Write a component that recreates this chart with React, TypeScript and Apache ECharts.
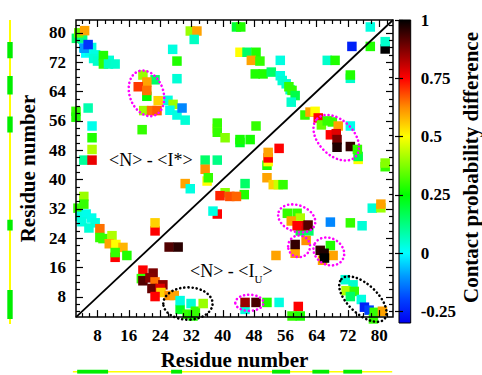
import React, { useEffect, useRef } from "react";
import * as echarts from "echarts";

// ---------- axis settings ----------
const AXIS_MIN = 2.5;
const AXIS_MAX = 83.5;
const majorTicks = [8, 16, 24, 32, 40, 48, 56, 64, 72, 80];
const minorTicks = [4, 6, 10, 12, 14, 18, 20, 22, 26, 28, 30, 34, 36, 38, 42, 44, 46, 50, 52, 54, 58, 60, 62, 66, 68, 70, 74, 76, 78, 82];
const colorbarTicks = [-0.25, 0, 0.25, 0.5, 0.75, 1];
const CB_MIN = -0.3;
const CB_MAX = 1;

// colour scale anchors (value -> colour)
const colorAnchorValues = [-0.3, -0.2, -0.1, 0, 0.125, 0.25, 0.375, 0.5, 0.625, 0.75, 0.875, 1];
const colorAnchorColors = ["#0000f0", "#0040ff", "#0099ff", "#00ffff", "#00ff80", "#00ff00", "#80ff00", "#ffff00", "#ff8c00", "#ff0000", "#800000", "#000000"];

// ---------- contact probability differences [residue i, residue j, value] ----------
// upper triangle : <N> - <I*>
const upperContacts: number[][] = [
  [2.6, 78.5, 0.15], [4.2, 78.3, 0.12], [3.2, 80.0, 0.35], [4.7, 80.6, 0.6],
  [4.5, 76, 0.02], [6.5, 76, 0.03], [5, 74.5, 0.0], [6, 75, 0.02], [7.5, 74, 0.03], [7, 73, 0.04],
  [8, 72.3, 0.05], [9.5, 72.5, 0.05], [11, 72.5, 0.04],
  [9.5, 73.8, 0.28], [9.5, 71.5, 0.3], [10.8, 71.5, 0.06], [12.5, 71.5, 0.05],
  [4.6, 75.8, -0.1], [5.6, 76.8, -0.22],
  [19.6, 68.5, 0.4], [22.7, 67.2, 0.15], [20.6, 66.6, 0.6], [18.4, 65.3, 0.7],
  [20.6, 62.7, 0.25], [20.6, 64.3, 0.65], [23.5, 61.5, 0.55],
  [19.8, 58.8, 0.4], [21.8, 58.8, 0.65], [23.2, 58.8, 0.67],
  [26, 61.6, 0.03], [27.3, 60.5, 0.4], [26.5, 58.9, 0.02], [28.3, 57.6, 0.03], [30.4, 56.2, 0.04], [29.6, 59.5, -0.12],
  [27.2, 75.5, 0.03], [28.3, 72.3, 0.28], [28.3, 67.5, 0.04],
  [2.5, 58.6, 0.3], [2.5, 57.0, 0.28], [5.6, 59.5, 0.08],
  [6.6, 54.6, 0.02], [6.6, 51.4, 0.28], [6.6, 48.2, 0.42], [4.5, 45.3, 0.1], [6.6, 45.3, 0.77],
  [19.4, 53.6, 0.3],
  [31.7, 80.5, 0.4], [33.4, 80.5, 0.6], [32.7, 78.2, 0.06],
  [43.5, 81.6, 0.2], [44.6, 81.6, 0.28],
  [44.4, 74.7, 0.5], [46.2, 74.7, 0.15], [48.5, 74.7, 0.28], [47.3, 72.5, 0.6], [49.5, 72.3, 0.3],
  [48.3, 68.8, 0.28], [50.3, 68.8, 0.28], [54.7, 72.5, 0.03],
  [52.4, 69.3, 0.15], [54.7, 68.3, 0.03], [55.2, 67, 0.04], [56.2, 66.1, 0.05], [57.2, 64.5, 0.06],
  [56.9, 65.3, 0.3], [57.7, 64.3, 0.3], [58.5, 62.9, 0.18], [57.5, 61.1, 0.05],
  [77.7, 81.6, 0.03], [73, 76.3, -0.25], [77.7, 76.3, 0.28], [81.5, 75.6, 1.0], [81.5, 77.6, 0.05],
  [66.7, 72.5, 0.05], [68.7, 72.5, 0.28], [72.6, 67.6, 0.05], [72.6, 68.5, 0.28],
  [38.6, 53.9, 0.5], [38.6, 55.4, 0.3], [38.6, 52.9, 0.3], [40.6, 51.4, 0.38], [48.5, 54.6, 0.3],
  [44.4, 50.1, 0.22], [44.4, 50.9, 0.27], [47, 50.9, 0.27],
  [35.5, 45.3, 0.15], [38.6, 45.3, 0.12], [35.5, 42.8, 0.62], [36, 39.6, 0.5], [36.3, 40.5, 0.3],
  [30.4, 38.9, 0.6], [31.7, 37.5, 0.03],
  [3, 32.2, 0.3], [4.5, 35.4, 0.4], [4.5, 33.3, 0.3], [3.5, 30, 0.03], [5.1, 30.6, 0.02],
  [4, 28.5, 0.03], [6.5, 29.5, 0.02],
  [7.4, 28.2, 0.03], [5.8, 26.8, 0.04], [8.6, 26.6, 0.65], [8.6, 24.2, 0.3], [9.4, 23.9, 0.3],
  [11.7, 24.7, 0.42], [11, 22.5, 0.6], [12.7, 22.3, 0.5], [14.5, 21.5, 0.58], [12.5, 18.8, 0.75],
  [12.5, 20.1, 0.3], [15.5, 19.3, 0.28],
  [22.7, 26, 0.75], [22.7, 28.2, 0.55],
];

// lower triangle : <N> - <I_U>
const lowerContacts: number[][] = [
  [54.4, 48.5, 0.75], [51.3, 43.9, 0.28], [51.6, 44.9, 0.5], [51.6, 45.9, 0.75], [51.6, 47.4, 0.6],
  [51.3, 40.5, 0.6], [45.7, 38.9, 0.15], [45.5, 35.9, 0.28],
  [52.9, 38.6, 0.55], [54.2, 38.6, 0.45], [55.4, 38.6, 0.3],
  [40.6, 36.4, 0.38], [39.3, 35.6, 0.72], [41.8, 35.4, 0.68], [43.5, 35.4, 0.66],
  [38.6, 30.6, 0.75], [37.5, 31.4, 0.03],
  [61, 57.6, 0.3], [62.3, 58.4, 0.6], [63.6, 58.6, 0.5], [64.4, 56.8, 0.75], [65.2, 54.9, 0.35],
  [66.7, 56, 0.3], [68, 55.7, 0.3], [69.5, 54.6, 0.6], [72.6, 54.6, 0.02],
  [67.5, 52.2, 0.75], [69, 52.5, 0.78], [69.2, 50.9, 0.88], [69.2, 48.8, 0.97], [72.6, 49, 0.95],
  [74.6, 45.5, 0.5], [74.6, 46.3, 0.18], [74.4, 48.2, 0.3], [81.5, 43.5, 0.3], [81.5, 44.5, 0.38],
  [26.3, 21.6, 0.92], [28.6, 21.6, 0.96], [53.6, 19.3, 0.6],
  [45.7, 4.6, 0.03], [45.7, 6.5, 0.85], [48.5, 6.5, 0.93], [51.3, 6.5, 0.28], [54.4, 6.5, 0.03],
  [19.6, 15.3, 0.75], [22.2, 14.5, 0.88], [19.2, 13, 0.3], [19.6, 12.4, 0.92], [21.4, 13.2, 0.87],
  [22.7, 12.1, 0.65], [24.7, 11.3, 0.86], [21.9, 10.3, 0.9], [24, 10.3, 0.78], [24.2, 9.2, 0.55],
  [22.7, 8.1, 0.75], [26.3, 8.4, 0.62], [27.6, 8.4, 0.6],
  [29.1, 4.6, 0.22], [30.9, 3.3, 0.3], [32.4, 2.8, 0.28], [29.1, 7.0, 0.03], [31.9, 6.2, 0.04],
  [33, 4.1, 0.3], [35, 6.2, 0.4],
  [56.5, 30.8, 0.3], [59, 30.8, 0.3], [59.8, 29.5, 0.42], [57.5, 28.7, 0.6], [59.8, 26, 0.18],
  [62, 26, 0.15], [59, 27.4, 0.75], [61.3, 27.4, 0.78], [61.8, 27.6, 0.92],
  [58.5, 19.9, 0.6], [58.5, 22.3, 0.95], [61.3, 23.4, 0.62], [67.5, 22, 0.28], [68.2, 19.3, 0.6],
  [65.5, 18.0, 0.6], [64.9, 20.7, 0.95], [65.9, 19.9, 0.97], [66, 18.6, 1.0],
  [67.5, 28.4, -0.12], [72.6, 28.2, 0.3], [75.6, 27.4, 0.04], [78.2, 32.2, 0.04],
  [80.4, 32.3, 0.4], [80.4, 33.3, 0.6],
  [59.3, 5.4, 0.75], [57.7, 2.8, 0.3], [59.8, 2.8, 0.28],
  [71.3, 12.7, 0.04], [73.3, 11.3, 0.05], [71.5, 9.7, 0.42], [73.6, 9.5, 0.3], [72.6, 8.1, 0.15],
  [75.4, 7.3, 0.03], [76.2, 5.2, -0.25], [77.4, 4.4, -0.2], [78.5, 2, 0.3], [78.7, 3.8, 0.3], [80.8, 4.1, 0.6],
];

const diagonal = [[AXIS_MIN, AXIS_MIN], [AXIS_MAX, AXIS_MAX]];

// secondary structure strips (residue ranges)
const ssLeftSpan = [[2.2, 83.5]];
const ssLeft = [[3.6, 11.3], [27.2, 30.1], [53.4, 57.7], [63.6, 68.5], [73.3, 77.6]];
const ssBottomSpan = [[1.7, 83.3]];
const ssBottom = [[2.8, 10.7], [26.8, 29.6], [52.6, 57.2], [62.9, 67.2], [70.8, 75.6]];

// dotted annotation ellipses [cx, cy, rx, ry (data units), rotation deg]
const magentaEllipses = [
  [20.5, 63.5, 4.3, 6.4, 20],
  [69.0, 51.4, 6.9, 4.8, -45],
  [58.9, 29.4, 4.9, 3.6, -20],
  [59.5, 21.8, 2.8, 2.95, 0],
  [67.1, 20.4, 4.1, 3.6, -30],
  [46.8, 6.4, 3.6, 2.2, 0],
];
const blackEllipses = [
  [31.1, 6.2, 6.3, 4.4, 0],
  [75.8, 7.4, 7.5, 4.0, -43],
];

const SERIF = '"Liberation Serif", "DejaVu Serif", serif';

function hexToRgb(h: string) {
  return [parseInt(h.slice(1, 3), 16), parseInt(h.slice(3, 5), 16), parseInt(h.slice(5, 7), 16)];
}
function buildScale(n: number): string[] {
  const out: string[] = [];
  for (let i = 0; i < n; i++) {
    const v = CB_MIN + ((CB_MAX - CB_MIN) * i) / (n - 1);
    let k = 0;
    while (k < colorAnchorValues.length - 2 && v > colorAnchorValues[k + 1]) k++;
    const t = Math.max(0, Math.min(1, (v - colorAnchorValues[k]) / (colorAnchorValues[k + 1] - colorAnchorValues[k])));
    const a = hexToRgb(colorAnchorColors[k]);
    const b = hexToRgb(colorAnchorColors[k + 1]);
    const c = a.map((x, j) => Math.round(x + (b[j] - x) * t));
    out.push(`rgb(${c[0]},${c[1]},${c[2]})`);
  }
  return out;
}

export default function App() {
  const ref = useRef<HTMLDivElement>(null);
  useEffect(() => {
    if (!ref.current) return;
    const chart = echarts.init(ref.current, null, { renderer: "svg" });
    const scale = buildScale(53);
    const labelStyle = { fontFamily: SERIF, fontWeight: "bold" as const, fontSize: 17, color: "#000" };

    const mainAxis = (pos: string, ticks: number[], len: number, labels: boolean, extra: any = {}) => ({
      type: "value",
      gridIndex: 0,
      position: pos,
      min: AXIS_MIN,
      max: AXIS_MAX,
      z: 5,
      axisLine: { show: false, onZero: false },
      splitLine: { show: false },
      axisTick: { show: true, inside: true, length: len, customValues: ticks, lineStyle: { color: "#000", width: 1.2 } },
      axisLabel: labels ? { show: true, customValues: majorTicks, margin: 10, ...labelStyle } : { show: false },
      ...extra,
    });

    const ellipseRender = (color: string) => (params: any, api: any) => {
      const c = api.coord([api.value(0), api.value(1)]);
      const s = api.size([api.value(2), api.value(3)]);
      return {
        type: "ellipse",
        x: c[0],
        y: c[1],
        rotation: (api.value(4) * Math.PI) / 180,
        shape: { cx: 0, cy: 0, rx: s[0], ry: s[1] },
        style: { fill: "none", stroke: color, lineWidth: 2.6, lineDash: [0.1, 4], lineCap: "round" },
      };
    };

    const stripRender = (vertical: boolean, lo: number, hi: number, color: string) => (params: any, api: any) => {
      const a = api.value(0);
      const b = api.value(1);
      const p0 = vertical ? api.coord([lo, a]) : api.coord([a, lo]);
      const p1 = vertical ? api.coord([hi, b]) : api.coord([b, hi]);
      return {
        type: "rect",
        shape: {
          x: Math.min(p0[0], p1[0]),
          y: Math.min(p0[1], p1[1]),
          width: Math.abs(p1[0] - p0[0]),
          height: Math.abs(p1[1] - p0[1]),
        },
        style: { fill: color },
      };
    };

    const option: any = {
      animation: false,
      grid: [
        { left: 76, top: 20, width: 317, height: 303, show: true, borderColor: "#000", borderWidth: 1.5, z: 6 },
        { left: 5, top: 20, width: 10, height: 303 },
        { left: 76, top: 368, width: 317, height: 10 },
        { left: 399, top: 20, width: 18, height: 303, show: true, borderColor: "#000", borderWidth: 1, z: 6 },
      ],
      xAxis: [
        mainAxis("bottom", majorTicks, 7, true, {
          name: "Residue number",
          nameLocation: "middle",
          nameGap: 27,
          nameTextStyle: { fontFamily: SERIF, fontWeight: "bold", fontSize: 21, color: "#000" },
        }),
        mainAxis("bottom", minorTicks, 4, false),
        mainAxis("top", majorTicks, 7, false),
        mainAxis("top", minorTicks, 4, false),
        { type: "value", gridIndex: 1, min: 0, max: 1, show: false },
        { type: "value", gridIndex: 2, min: AXIS_MIN, max: AXIS_MAX, show: false },
        { type: "value", gridIndex: 3, min: 0, max: 1, show: false },
      ],
      yAxis: [
        mainAxis("left", majorTicks, 7, true, {
          name: "Residue number",
          nameLocation: "middle",
          nameGap: 38,
          nameTextStyle: { fontFamily: SERIF, fontWeight: "bold", fontSize: 21, color: "#000" },
        }),
        mainAxis("left", minorTicks, 4, false),
        mainAxis("right", majorTicks, 7, false),
        mainAxis("right", minorTicks, 4, false),
        { type: "value", gridIndex: 1, min: AXIS_MIN, max: AXIS_MAX, show: false },
        { type: "value", gridIndex: 2, min: 0, max: 1, show: false },
        {
          type: "value",
          gridIndex: 3,
          position: "right",
          min: CB_MIN,
          max: CB_MAX,
          z: 7,
          axisLine: { show: false },
          splitLine: { show: false },
          axisTick: { show: true, inside: true, length: 4, customValues: colorbarTicks, lineStyle: { color: "#000", width: 1.2 } },
          axisLabel: { show: true, customValues: colorbarTicks, margin: 10, ...labelStyle, fontSize: 17 },
          name: "Contact probability difference",
          nameLocation: "middle",
          nameRotate: 90,
          nameGap: 48,
          nameTextStyle: { fontFamily: SERIF, fontWeight: "bold", fontSize: 21, color: "#000", padding: [0, 0, 0, 8] },
        },
        {
          type: "value",
          gridIndex: 3,
          position: "left",
          min: CB_MIN,
          max: CB_MAX,
          z: 7,
          axisLine: { show: false },
          splitLine: { show: false },
          axisTick: { show: true, inside: true, length: 4, customValues: colorbarTicks, lineStyle: { color: "#000", width: 1.2 } },
          axisLabel: { show: false },
        },
      ],
      visualMap: {
        type: "continuous",
        show: false,
        min: CB_MIN,
        max: CB_MAX,
        dimension: 2,
        seriesIndex: [0, 1],
        inRange: { color: scale },
      },
      graphic: [
        {
          type: "text",
          left: 109,
          top: 151,
          z: 20,
          style: { text: "<N> - <I*>", font: `18px ${SERIF}`, fill: "#000" },
        },
        {
          type: "text",
          left: 190,
          top: 262,
          z: 20,
          style: {
            text: "{a|<N> - <I}{s|U}{a|>}",
            fill: "#000",
            rich: {
              a: { fontFamily: SERIF, fontSize: 18, lineHeight: 22, verticalAlign: "bottom" },
              s: { fontFamily: SERIF, fontSize: 11, lineHeight: 22, verticalAlign: "bottom", padding: [0, 0, -4, 0] },
            },
          },
        },
      ],
      series: [
        {
          type: "scatter",
          xAxisIndex: 0,
          yAxisIndex: 0,
          data: upperContacts,
          symbol: "rect",
          symbolSize: 9.5,
          clip: false,
          itemStyle: { opacity: 1 },
          silent: true,
        },
        {
          type: "scatter",
          xAxisIndex: 0,
          yAxisIndex: 0,
          data: lowerContacts,
          symbol: "rect",
          symbolSize: 9.5,
          clip: false,
          itemStyle: { opacity: 1 },
          silent: true,
        },
        {
          type: "line",
          xAxisIndex: 0,
          yAxisIndex: 0,
          data: diagonal,
          symbol: "none",
          lineStyle: { color: "#000", width: 1.8 },
          silent: true,
          z: 3,
        },
        {
          type: "custom",
          xAxisIndex: 0,
          yAxisIndex: 0,
          data: magentaEllipses,
          renderItem: ellipseRender("#ff00ff"),
          silent: true,
          z: 4,
        },
        {
          type: "custom",
          xAxisIndex: 0,
          yAxisIndex: 0,
          data: blackEllipses,
          renderItem: ellipseRender("#000"),
          silent: true,
          z: 4,
        },
        {
          type: "custom",
          xAxisIndex: 4,
          yAxisIndex: 4,
          data: ssLeftSpan,
          renderItem: stripRender(true, 0.4, 0.6, "#ffff00"),
          silent: true,
        },
        {
          type: "custom",
          xAxisIndex: 4,
          yAxisIndex: 4,
          data: ssLeft,
          renderItem: stripRender(true, 0.23, 0.77, "#00ee00"),
          silent: true,
        },
        {
          type: "custom",
          xAxisIndex: 5,
          yAxisIndex: 5,
          data: ssBottomSpan,
          renderItem: stripRender(false, 0.35, 0.57, "#ffff00"),
          silent: true,
        },
        {
          type: "custom",
          xAxisIndex: 5,
          yAxisIndex: 5,
          data: ssBottom,
          renderItem: stripRender(false, 0.2, 0.75, "#00ee00"),
          silent: true,
        },
        {
          type: "custom",
          xAxisIndex: 6,
          yAxisIndex: 6,
          data: [[CB_MIN, CB_MAX]],
          renderItem: (params: any, api: any) => {
            const p0 = api.coord([0, api.value(0)]);
            const p1 = api.coord([1, api.value(1)]);
            return {
              type: "rect",
              shape: { x: p0[0], y: p1[1], width: p1[0] - p0[0], height: p0[1] - p1[1] },
              style: {
                fill: new echarts.graphic.LinearGradient(
                  0, 1, 0, 0,
                  scale.map((c, i) => ({ offset: i / (scale.length - 1), color: c }))
                ),
              },
            };
          },
          silent: true,
        },
      ],
    };
    chart.setOption(option);
    return () => chart.dispose();
  }, []);

  return (
    <div
      ref={ref}
      style={{ position: "fixed", left: 0, top: 0, width: 482, height: 375, background: "#fff" }}
    />
  );
}
